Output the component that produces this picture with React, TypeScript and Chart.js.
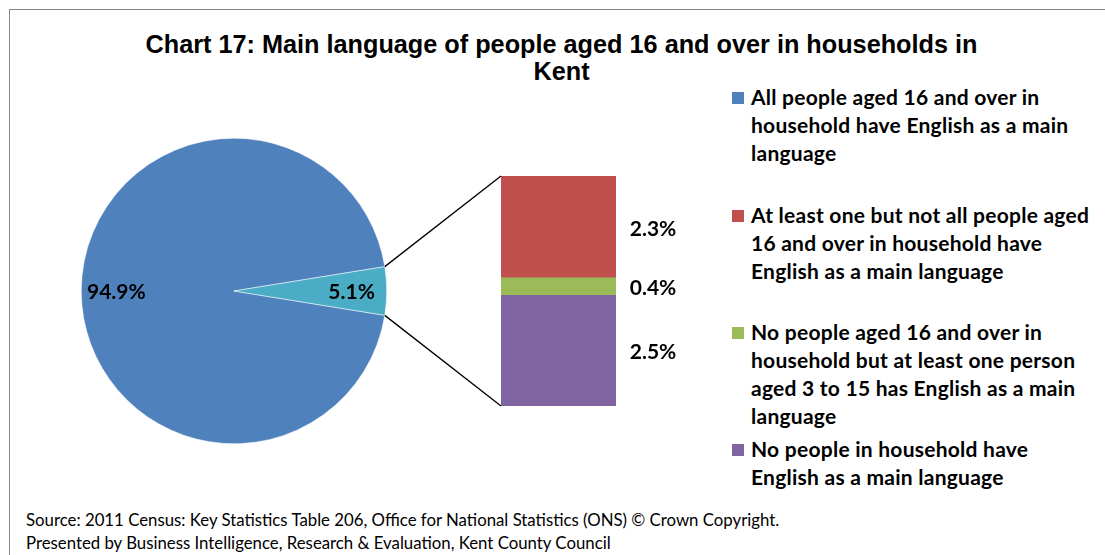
import React, { useEffect, useRef } from "react";
import { Chart, registerables } from "chart.js";

Chart.register(...registerables);

const titleLines = ["Chart 17: Main language of people aged 16 and over in households in", "Kent"];

const pieCategories = ["All people aged 16 and over in household have English as a main language", "Other"];
const pieValues = [94.9, 5.1];
const pieColors = ["#4F81BD", "#4BACC6"];

const barCategories = [
  "At least one but not all people aged 16 and over in household have English as a main language",
  "No people aged 16 and over in household but at least one person aged 3 to 15 has English as a main language",
  "No people in household have English as a main language",
];
const barValues = [2.3, 0.4, 2.5];
const barColors = ["#C0504D", "#9BBB59", "#8064A2"];

const legendColors = ["#4F81BD", "#C0504D", "#9BBB59", "#8064A2"];
const legendLines = [
  ["All people aged 16 and over in", "household have English as a main", "language"],
  ["At least one but not all people aged", "16 and over in household have", "English as a main language"],
  ["No people aged 16 and over in", "household but at least one person", "aged 3 to 15 has English as a main", "language"],
  ["No people in household have", "English as a main language"],
];
const legendTops = [83, 201, 318, 435];

const sourceLines = [
  "Source: 2011 Census: Key Statistics Table 206, Office for National Statistics (ONS) \u00A9 Crown Copyright.",
  "Presented by Business Intelligence, Research & Evaluation, Kent County Council",
];

const LABEL_FONT = "bold 21px Lato, 'Open Sans', sans-serif";

const PIE_BOX = { left: 74, top: 131, width: 320, height: 320 };
const BAR_BOX = { left: 380, top: 170, width: 320, height: 242 };

export default function App() {
  const pieRef = useRef<HTMLCanvasElement | null>(null);
  const barRef = useRef<HTMLCanvasElement | null>(null);

  useEffect(() => {
    if (!pieRef.current || !barRef.current) return;

    const tealDeg = (pieValues[1] / pieValues.reduce((a, b) => a + b, 0)) * 360;

    const pieLabelPlugin = {
      id: "pieLabels",
      afterDatasetsDraw(chart: any) {
        const ctx = chart.ctx;
        const meta = chart.getDatasetMeta(0);
        ctx.save();
        ctx.font = LABEL_FONT;
        ctx.fillStyle = "#000";
        ctx.textAlign = "center";
        ctx.textBaseline = "middle";
        meta.data.forEach((arc: any, i: number) => {
          const mid = (arc.startAngle + arc.endAngle) / 2;
          const r = arc.outerRadius * 0.77;
          const x = arc.x + Math.cos(mid) * r;
          const y = arc.y + Math.sin(mid) * r;
          ctx.fillText(pieValues[i].toFixed(1) + "%", x, y + 1);
        });
        ctx.restore();
      },
    };

    const pie = new Chart(pieRef.current, {
      type: "pie",
      data: {
        labels: pieCategories,
        datasets: [
          {
            data: pieValues,
            backgroundColor: pieColors,
            borderColor: "#ffffff",
            borderWidth: 0.5,
          },
        ],
      },
      options: {
        responsive: false,
        animation: false,
        rotation: 90 + tealDeg / 2,
        layout: { padding: 7 },
        plugins: { legend: { display: false }, tooltip: { enabled: false }, title: { display: false } },
      },
      plugins: [pieLabelPlugin],
    });

    const stackOrder = [2, 1, 0];

    const barPlugin = {
      id: "barExtras",
      afterDatasetsDraw(chart: any) {
        const ctx = chart.ctx;
        const area = chart.chartArea;
        ctx.save();
        ctx.font = LABEL_FONT;
        ctx.fillStyle = "#000";
        ctx.textAlign = "center";
        ctx.textBaseline = "middle";
        chart.data.datasets.forEach((ds: any, di: number) => {
          const el = chart.getDatasetMeta(di).data[0];
          const y = (el.y + el.base) / 2 + 2;
          ctx.fillText(ds.data[0].toFixed(1) + "%", area.right + 37, y);
        });
        const arc: any = pie.getDatasetMeta(0).data[1];
        const dx = PIE_BOX.left - BAR_BOX.left;
        const dy = PIE_BOX.top - BAR_BOX.top;
        const r = arc.outerRadius;
        const p1x = arc.x + Math.cos(arc.startAngle) * r + dx;
        const p1y = arc.y + Math.sin(arc.startAngle) * r + dy;
        const p2x = arc.x + Math.cos(arc.endAngle) * r + dx;
        const p2y = arc.y + Math.sin(arc.endAngle) * r + dy;
        const topEl: any = chart.getDatasetMeta(chart.data.datasets.length - 1).data[0];
        const botEl: any = chart.getDatasetMeta(0).data[0];
        const leftX = topEl.x - topEl.width / 2;
        ctx.strokeStyle = "#000";
        ctx.lineWidth = 1.3;
        ctx.beginPath();
        ctx.moveTo(p1x, p1y);
        ctx.lineTo(leftX, topEl.y);
        ctx.moveTo(p2x, p2y);
        ctx.lineTo(leftX, botEl.base);
        ctx.stroke();
        ctx.restore();
      },
    };

    const bar = new Chart(barRef.current, {
      type: "bar",
      data: {
        labels: ["Other"],
        datasets: stackOrder.map((i) => ({
          label: barCategories[i],
          data: [barValues[i]],
          backgroundColor: barColors[i],
          borderWidth: 0,
          categoryPercentage: 1,
          barPercentage: 1,
        })),
      },
      options: {
        responsive: false,
        animation: false,
        layout: { padding: { left: 121, right: 84, top: 6, bottom: 6 } },
        scales: {
          x: { stacked: true, display: false },
          y: { stacked: true, display: false, min: 0, max: barValues.reduce((a, b) => a + b, 0) },
        },
        plugins: { legend: { display: false }, tooltip: { enabled: false }, title: { display: false } },
      },
      plugins: [barPlugin],
    });

    return () => {
      bar.destroy();
      pie.destroy();
    };
  }, []);

  return (
    <div style={{ position: "fixed", left: 0, top: 0, width: 1105, height: 555, overflow: "hidden", background: "#fff" }}>
      <div
        style={{
          position: "absolute",
          left: 9,
          top: 9,
          width: 1200,
          height: 700,
          border: "1px solid #878787",
          boxSizing: "border-box",
        }}
      />
      <div
        style={{
          position: "absolute",
          left: 0,
          top: 31,
          width: 1123,
          textAlign: "center",
          font: "bold 25.25px 'Liberation Sans', Arial, sans-serif",
          lineHeight: "27px",
          color: "#000",
        }}
      >
        {titleLines.map((t, i) => (
          <div key={i}>{t}</div>
        ))}
      </div>
      <canvas
        ref={pieRef}
        width={PIE_BOX.width}
        height={PIE_BOX.height}
        style={{ position: "absolute", left: PIE_BOX.left, top: PIE_BOX.top, width: PIE_BOX.width, height: PIE_BOX.height }}
      />
      <canvas
        ref={barRef}
        width={BAR_BOX.width}
        height={BAR_BOX.height}
        style={{ position: "absolute", left: BAR_BOX.left, top: BAR_BOX.top, width: BAR_BOX.width, height: BAR_BOX.height }}
      />
      {legendLines.map((lines, i) => (
        <div key={i} style={{ position: "absolute", left: 732, top: legendTops[i] }}>
          <div
            style={{ position: "absolute", left: 0, top: 9, width: 12, height: 12, background: legendColors[i] }}
          />
          <div
            style={{
              position: "absolute",
              left: 19,
              top: 0,
              whiteSpace: "nowrap",
              font: "bold 21px Lato, 'Open Sans', sans-serif",
              letterSpacing: "0.25px",
              lineHeight: "28px",
              color: "#000",
            }}
          >
            {lines.map((l, j) => (
              <div key={j}>{l}</div>
            ))}
          </div>
        </div>
      ))}
      <div
        style={{
          position: "absolute",
          left: 26,
          top: 508,
          whiteSpace: "nowrap",
          font: "16.8px Lato, 'Open Sans', sans-serif",
          lineHeight: "23px",
          color: "#000",
        }}
      >
        {sourceLines.map((l, i) => (
          <div key={i}>{l}</div>
        ))}
      </div>
    </div>
  );
}
